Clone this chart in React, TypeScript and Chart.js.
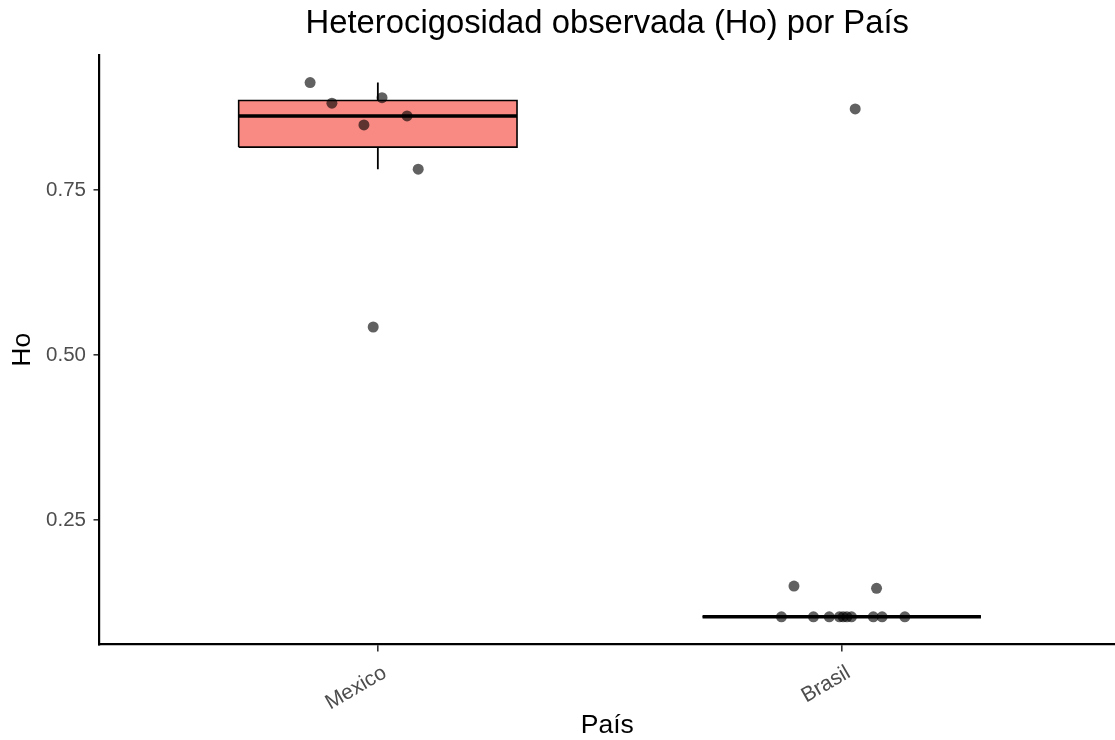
import React, { useEffect, useRef } from "react";
import { Chart, registerables } from "chart.js";

Chart.register(...registerables);

// ---------- data ----------
const CATEGORIES = ["Mexico", "Brasil"];
const MEXICO_HO = [0.9126, 0.8814, 0.8898, 0.8485, 0.8621, 0.7814, 0.5424];
const MEXICO_JITTER = [-0.146, -0.099, 0.009, -0.03, 0.063, 0.087, -0.01];
const BRASIL_HO = [
  0.15, 0.1465, 0.8727, 0.1034, 0.1034, 0.1034, 0.1034, 0.1034, 0.1034, 0.1034,
  0.1034, 0.1034, 0.1034,
];
const BRASIL_JITTER = [
  -0.103, 0.075, 0.029, -0.13, -0.061, -0.027, -0.005, 0.003, 0.011, 0.021,
  0.068, 0.087, 0.136,
];
const Y_TICKS = [0.25, 0.5, 0.75];
const BOX_FILLS = ["rgba(248,118,109,0.85)", "rgba(0,191,196,0.85)"];

const TITLE = "Heterocigosidad observada (Ho) por País";
const X_TITLE = "País";
const Y_TITLE = "Ho";

// ---------- style ----------
const FONT = "'Liberation Sans', Arial, Helvetica, sans-serif";
const BOX_HALF = 0.3;
const X_MIN = 0.4;
const X_MAX = 2.589;
const Y_MIN = 0.0614;
const Y_MAX = 0.9545;

function quantile(sorted: number[], p: number) {
  const pos = (sorted.length - 1) * p;
  const lo = Math.floor(pos);
  const hi = Math.ceil(pos);
  return sorted[lo] + (sorted[hi] - sorted[lo]) * (pos - lo);
}

function boxStats(values: number[]) {
  const s = [...values].sort((a, b) => a - b);
  const q1 = quantile(s, 0.25);
  const med = quantile(s, 0.5);
  const q3 = quantile(s, 0.75);
  const iqr = q3 - q1;
  const lo = Math.min(...s.filter((v) => v >= q1 - 1.5 * iqr));
  const hi = Math.max(...s.filter((v) => v <= q3 + 1.5 * iqr));
  return { q1, med, q3, lo, hi };
}

export default function App() {
  const ref = useRef<HTMLCanvasElement | null>(null);

  useEffect(() => {
    if (!ref.current) return;
    const groups = [
      { values: MEXICO_HO, jitter: MEXICO_JITTER },
      { values: BRASIL_HO, jitter: BRASIL_JITTER },
    ];

    const pointData: { x: number; y: number }[] = [];
    groups.forEach((g, gi) => {
      g.values.forEach((v, i) => pointData.push({ x: gi + 1 + g.jitter[i], y: v }));
    });

    const medians: any[] = [];
    const whiskers: any[] = [];
    const outlines: any[] = [];
    const fills: any[] = [];
    groups.forEach((g, gi) => {
      const c = gi + 1;
      const st = boxStats(g.values);
      const common = {
        type: "line" as const,
        showLine: true,
        pointRadius: 0,
        borderColor: "#000",
        fill: false,
      };
      medians.push({
        ...common,
        data: [
          { x: c - BOX_HALF, y: st.med },
          { x: c + BOX_HALF, y: st.med },
        ],
        borderWidth: 3.5,
        borderCapStyle: "butt",
      });
      whiskers.push({
        ...common,
        data: [
          { x: c, y: st.hi },
          { x: c, y: st.q3 },
          { x: c, y: null },
          { x: c, y: st.q1 },
          { x: c, y: st.lo },
        ],
        borderWidth: 1.8,
        spanGaps: false,
      });
      outlines.push({
        ...common,
        data: [
          { x: c - BOX_HALF, y: st.q1 },
          { x: c + BOX_HALF, y: st.q1 },
          { x: c + BOX_HALF, y: st.q3 },
          { x: c - BOX_HALF, y: st.q3 },
          { x: c - BOX_HALF, y: st.q1 },
        ],
        borderWidth: 1.6,
        borderJoinStyle: "miter",
      });
      fills.push({
        ...common,
        data: [
          { x: c - BOX_HALF, y: st.q3 },
          { x: c + BOX_HALF, y: st.q3 },
        ],
        borderWidth: 0,
        borderColor: "rgba(0,0,0,0)",
        backgroundColor: BOX_FILLS[gi],
        fill: { value: st.q1 },
      });
    });

    const datasets: any[] = [
      {
        type: "scatter",
        data: pointData,
        pointRadius: 5.5,
        pointBorderWidth: 0,
        backgroundColor: "rgba(0,0,0,0.62)",
        borderColor: "rgba(0,0,0,0)",
      },
      ...medians,
      ...whiskers,
      ...outlines,
      ...fills,
    ];

    const chart = new Chart(ref.current, {
      type: "scatter",
      data: { datasets },
      options: {
        animation: false,
        responsive: false,
        layout: { padding: 0, autoPadding: false },
        plugins: {
          legend: { display: false },
          tooltip: { enabled: false },
          title: {
            display: true,
            text: TITLE,
            fullSize: false,
            color: "#000",
            font: { family: FONT, size: 32.8, weight: "normal", lineHeight: 1.2 },
            padding: { top: 4.3, bottom: 11.3 },
          },
        },
        scales: {
          x: {
            type: "linear",
            min: X_MIN,
            max: X_MAX,
            afterBuildTicks: (scale: any) => {
              scale.ticks = CATEGORIES.map((_, i) => ({ value: i + 1 }));
            },
            afterFit: (scale: any) => {
              scale.height = 95.5;
              scale.paddingLeft = 0;
              scale.paddingRight = 0;
            },
            ticks: {
              autoSkip: false,
              minRotation: 30,
              maxRotation: 30,
              padding: 9,
              labelOffset: 7,
              color: "#4D4D4D",
              font: { family: FONT, size: 21 },
              callback: (v: any) => CATEGORIES[Math.round(v) - 1] ?? "",
            },
            grid: {
              display: true,
              drawOnChartArea: false,
              drawTicks: true,
              tickLength: 7,
              color: "#333",
              lineWidth: 1.6,
            },
            border: { display: true, color: "#000", width: 2.2 },
            title: {
              display: true,
              text: X_TITLE,
              color: "#000",
              font: { family: FONT, size: 26.5, lineHeight: 1 },
              padding: { top: 0, bottom: 1.5 },
            },
          },
          y: {
            type: "linear",
            min: Y_MIN,
            max: Y_MAX,
            afterBuildTicks: (scale: any) => {
              scale.ticks = Y_TICKS.map((v) => ({ value: v }));
            },
            afterFit: (scale: any) => {
              scale.width = 99.5;
              scale.paddingTop = 0;
              scale.paddingBottom = 0;
            },
            ticks: {
              padding: 7.5,
              color: "#4D4D4D",
              font: { family: FONT, size: 20.5 },
              callback: (v: any) => Number(v).toFixed(2),
            },
            grid: {
              display: true,
              drawOnChartArea: false,
              drawTicks: true,
              tickLength: 6,
              color: "#333",
              lineWidth: 1.6,
            },
            border: { display: true, color: "#000", width: 2.2 },
            title: {
              display: true,
              text: Y_TITLE,
              color: "#000",
              font: { family: FONT, size: 26.5, lineHeight: 1 },
              padding: { top: 9.5, bottom: 0 },
            },
          },
        },
      } as any,
    });
    return () => chart.destroy();
  }, []);

  return (
    <div style={{ position: "absolute", left: 0, top: 0, width: 1115, height: 740, background: "#fff" }}>
      <canvas ref={ref} width={1115} height={740} style={{ display: "block" }} />
    </div>
  );
}
